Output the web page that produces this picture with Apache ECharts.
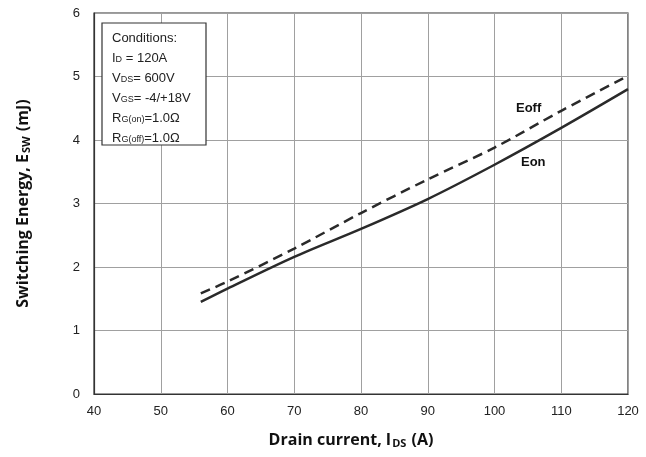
<!DOCTYPE html>
<html>
<head>
<meta charset="utf-8">
<script src="https://cdn.jsdelivr.net/npm/echarts@6/dist/echarts.min.js"></script>
<style>html,body{margin:0;padding:0;background:#fff}#c{width:646px;height:457px}</style>
</head>
<body>
<div id="c"></div>
<script>
const currents = [56, 60, 70, 80, 90, 100, 110, 120];
const eon = [1.45, 1.66, 2.16, 2.60, 3.07, 3.61, 4.19, 4.80];
const eoff = [1.585, 1.77, 2.29, 2.85, 3.38, 3.88, 4.46, 5.01];
const conditions = ['Conditions:', 'I_D = 120A', 'V_DS = 600V', 'V_GS = -4/+18V', 'R_G(on)=1.0Ω', 'R_G(off)=1.0Ω'];

const chart = echarts.init(document.getElementById('c'));
const lbl = {color: '#222', fontFamily: 'Liberation Sans, Arial', fontSize: 13};
const titleFont = 'Open Sans';
chart.setOption({
  animation: false,
  grid: {left: 94, right: 18, top: 13, bottom: 63, show: true, borderColor: '#333', borderWidth: 1.2},
  xAxis: {
    type: 'value', min: 40, max: 120, interval: 10,
    axisLine: {lineStyle: {color: '#333', width: 1.2}},
    axisTick: {show: false},
    axisLabel: Object.assign({margin: 11}, lbl),
    splitLine: {lineStyle: {color: '#a0a0a0', width: 1}},
    name: '{b|Drain current, I}{s|DS}{b| (A)}',
    nameLocation: 'middle', nameGap: 38,
    nameTextStyle: {padding: [0, 20, 0, 0], rich: {
      b: {fontFamily: titleFont, fontWeight: 'bold', fontSize: 16, color: '#111'},
      s: {fontFamily: titleFont, fontWeight: 'bold', fontSize: 11, color: '#111', padding: [6, 1, 0, 1]}
    }}
  },
  yAxis: {
    type: 'value', min: 0, max: 6, interval: 1,
    axisLine: {lineStyle: {color: '#333', width: 1.2}},
    axisTick: {show: false},
    axisLabel: Object.assign({margin: 14}, lbl),
    splitLine: {lineStyle: {color: '#a0a0a0', width: 1}},
    name: '{b|Switching Energy, E}{s|SW}{b| (mJ)}',
    nameLocation: 'middle', nameGap: 62,
    nameTextStyle: {padding: [0, 0, 0, 0], rich: {
      b: {fontFamily: titleFont, fontWeight: 'bold', fontSize: 16, color: '#111'},
      s: {fontFamily: titleFont, fontWeight: 'bold', fontSize: 11, color: '#111', padding: [6, 1, 0, 1]}
    }}
  },
  series: [
    {type: 'line', name: 'Eoff', data: currents.map((x, i) => [x, eoff[i]]), smooth: 0.3, showSymbol: false,
     lineStyle: {color: '#2a2a2a', width: 2.5, type: [10, 6]}},
    {type: 'line', name: 'Eon', data: currents.map((x, i) => [x, eon[i]]), smooth: 0.3, showSymbol: false,
     lineStyle: {color: '#2a2a2a', width: 2.5}}
  ],
  graphic: [
    {type: 'rect', shape: {x: 102, y: 23, width: 104, height: 122}, style: {fill: '#fff', stroke: '#333', lineWidth: 1.2}, z: 100},
    {type: 'text', left: 112, top: 28, z: 101, style: {
      text: 'Conditions:\n{n|I}{s|D}{n| = 120A}\n{n|V}{s|DS}{n|= 600V}\n{n|V}{s|GS}{n|= -4/+18V}\n{n|R}{s|G(on)}{n|=1.0Ω}\n{n|R}{s|G(off)}{n|=1.0Ω}',
      fontFamily: 'Liberation Sans, Arial', fontSize: 13, lineHeight: 20, fill: '#222',
      rich: {
        n: {fontFamily: 'Liberation Sans, Arial', fontSize: 13, lineHeight: 20, fill: '#222'},
        s: {fontFamily: 'Liberation Sans, Arial', fontSize: 9, lineHeight: 20, fill: '#222', padding: [4, 0, 0, 0]}
      }}},
    {type: 'text', left: 516, top: 102, style: {text: 'Eoff', fontFamily: 'Liberation Sans, Arial', fontWeight: 'bold', fontSize: 13, fill: '#111'}},
    {type: 'text', left: 521, top: 156, style: {text: 'Eon', fontFamily: 'Liberation Sans, Arial', fontWeight: 'bold', fontSize: 13, fill: '#111'}}
  ]
});
</script>
</body>
</html>
